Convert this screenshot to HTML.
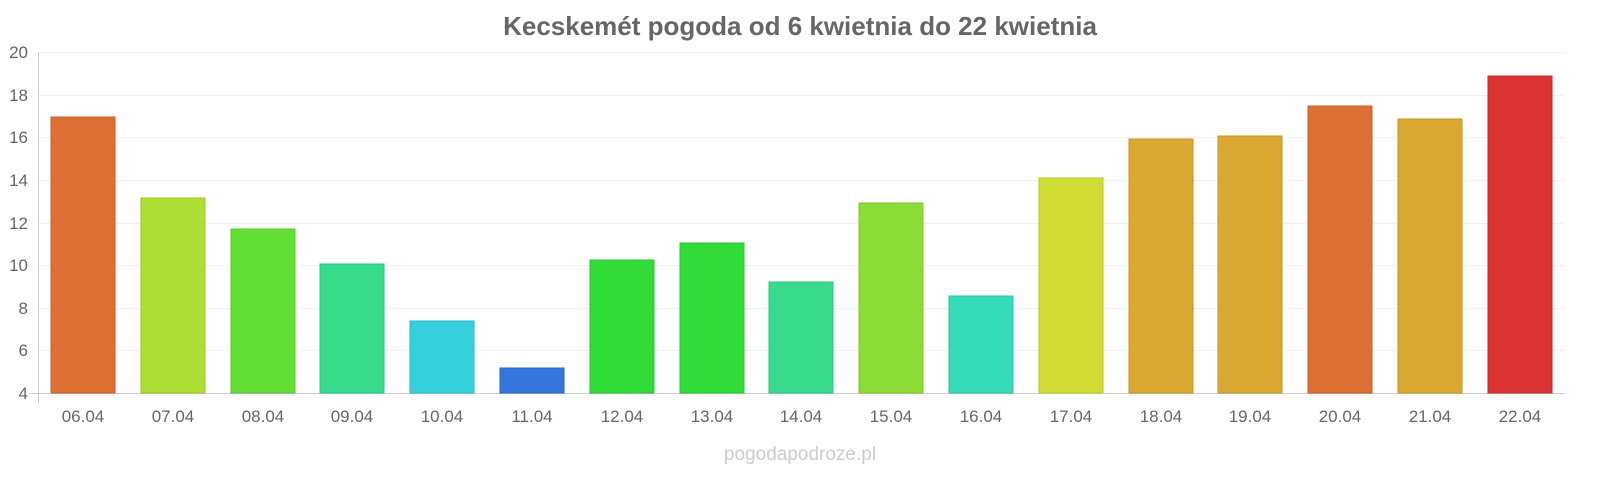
<!DOCTYPE html>
<html><head><meta charset="utf-8"><style>
body{margin:0;background:#fff;}
svg{display:block;font-family:"Liberation Sans",sans-serif;}
</style></head><body>
<svg width="1600" height="480" viewBox="0 0 1600 480">
<text x="800" y="35" text-anchor="middle" font-size="26" font-weight="bold" fill="#666">Kecskemét pogoda od 6 kwietnia do 22 kwietnia</text>
<g stroke="#f0f0f0" stroke-width="1">
<line x1="38" x2="1565" y1="52.5" y2="52.5"/><line x1="38" x2="1565" y1="95.5" y2="95.5"/>
<line x1="38" x2="1565" y1="137.5" y2="137.5"/><line x1="38" x2="1565" y1="180.5" y2="180.5"/>
<line x1="38" x2="1565" y1="223.5" y2="223.5"/><line x1="38" x2="1565" y1="265.5" y2="265.5"/>
<line x1="38" x2="1565" y1="308.5" y2="308.5"/><line x1="38" x2="1565" y1="350.5" y2="350.5"/>
</g>
<line x1="38.5" x2="38.5" y1="52" y2="403" stroke="#ccc"/>
<line x1="30" x2="1565" y1="393.5" y2="393.5" stroke="#ccc"/>
<g font-size="17" fill="#666" text-anchor="end">
<text x="28" y="58">20</text><text x="28" y="101">18</text><text x="28" y="143">16</text>
<text x="28" y="186">14</text><text x="28" y="229">12</text><text x="28" y="271">10</text>
<text x="28" y="314">8</text><text x="28" y="356">6</text><text x="28" y="399">4</text>
</g>
<g stroke-width="1">
<rect x="51" y="117" width="64" height="276" fill="#dd6f34" stroke="#cc6020"/>
<rect x="141" y="198" width="64" height="195" fill="#aede34" stroke="#9cc828"/>
<rect x="231" y="229" width="64" height="164" fill="#62de34" stroke="#55c828"/>
<rect x="320" y="264" width="64" height="129" fill="#36dc8c" stroke="#2cc67c"/>
<rect x="410" y="321" width="64" height="72" fill="#36d0dc" stroke="#2cbac6"/>
<rect x="500" y="368" width="64" height="25" fill="#3476dc" stroke="#2866c6"/>
<rect x="590" y="260" width="64" height="133" fill="#32dc38" stroke="#28c62c"/>
<rect x="680" y="243" width="64" height="150" fill="#32dc38" stroke="#28c62c"/>
<rect x="769" y="282" width="64" height="111" fill="#36dc8c" stroke="#2cc67c"/>
<rect x="859" y="203" width="64" height="190" fill="#8cdc36" stroke="#7cc62c"/>
<rect x="949" y="296" width="64" height="97" fill="#36dcb8" stroke="#2cc6a4"/>
<rect x="1039" y="178" width="64" height="215" fill="#d0dc34" stroke="#bcc628"/>
<rect x="1129" y="139" width="64" height="254" fill="#dca834" stroke="#c69428"/>
<rect x="1218" y="136" width="64" height="257" fill="#dca834" stroke="#c69428"/>
<rect x="1308" y="106" width="64" height="287" fill="#dd6f34" stroke="#cc6020"/>
<rect x="1398" y="119" width="64" height="274" fill="#dca834" stroke="#c69428"/>
<rect x="1488" y="76" width="64" height="317" fill="#dc3434" stroke="#c62828"/>
</g>
<g font-size="17" fill="#666" text-anchor="middle">
<text x="83" y="422">06.04</text><text x="173" y="422">07.04</text><text x="263" y="422">08.04</text>
<text x="352" y="422">09.04</text><text x="442" y="422">10.04</text><text x="532" y="422">11.04</text>
<text x="622" y="422">12.04</text><text x="712" y="422">13.04</text><text x="801" y="422">14.04</text>
<text x="891" y="422">15.04</text><text x="981" y="422">16.04</text><text x="1071" y="422">17.04</text>
<text x="1161" y="422">18.04</text><text x="1250" y="422">19.04</text><text x="1340" y="422">20.04</text>
<text x="1430" y="422">21.04</text><text x="1520" y="422">22.04</text>
</g>
<text x="800" y="460" text-anchor="middle" font-size="19" fill="#ccc">pogodapodroze.pl</text>
</svg>
</body></html>
